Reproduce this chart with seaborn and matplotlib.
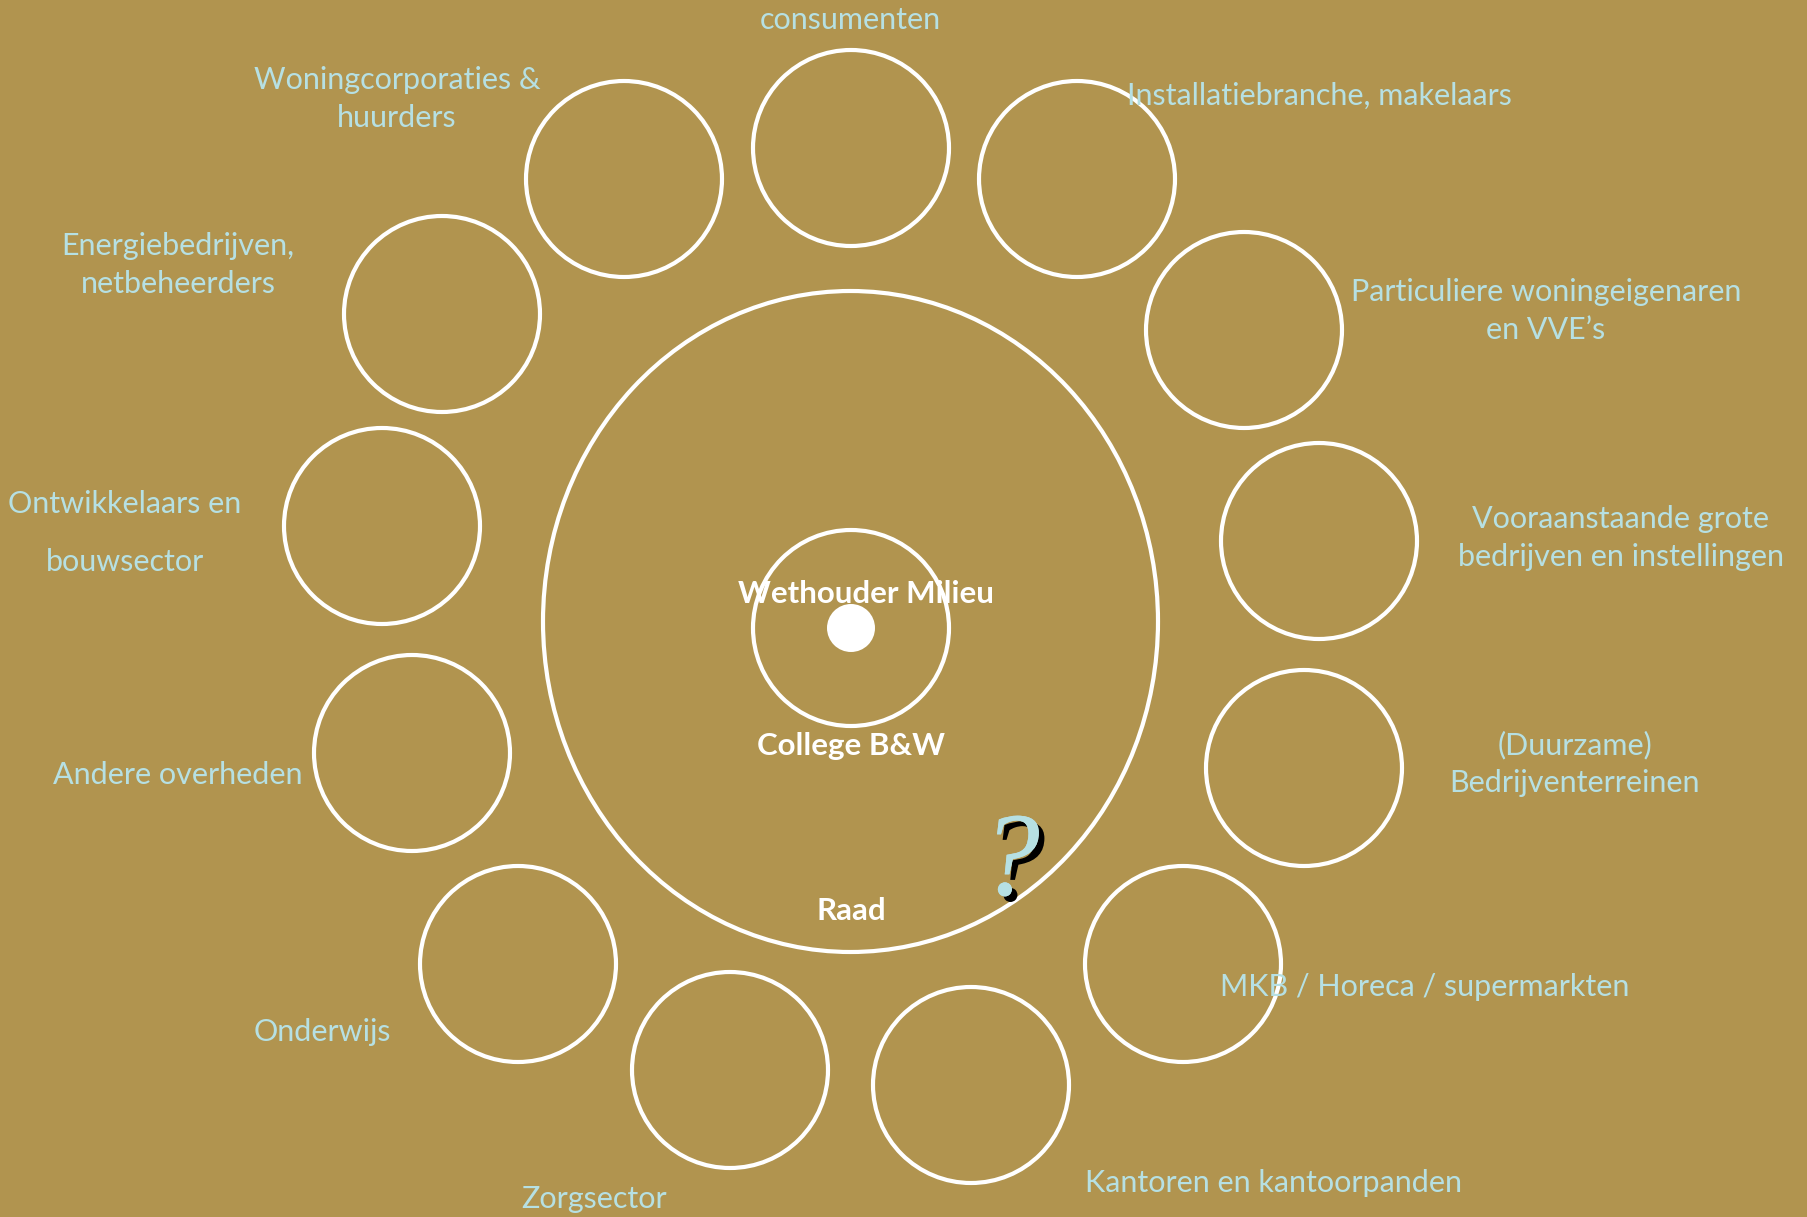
import matplotlib
matplotlib.use("Agg")
import matplotlib.pyplot as plt
from matplotlib.patches import Circle, Ellipse
import matplotlib.patheffects as pe
import seaborn as sns
import pandas as pd

# ---- data (categories / text) ----
stakeholders = [
    "consumenten",
    "Installatiebranche, makelaars",
    "Particuliere woningeigenaren\nen VVE\u2019s",
    "Vooraanstaande grote\nbedrijven en instellingen",
    "(Duurzame)\nBedrijventerreinen",
    "MKB / Horeca / supermarkten",
    "Kantoren en kantoorpanden",
    "Zorgsector",
    "Onderwijs",
    "Andere overheden",
    "Ontwikkelaars en\nbouwsector",
    "Energiebedrijven,\nnetbeheerders",
    "Woningcorporaties &\nhuurders",
]
center_labels = ["Wethouder Milieu", "College B&W", "Raad"]

# ---- layout (pixel positions in a 1808x1217 canvas) ----
circle_x = [851, 1077, 1244, 1319, 1304, 1183, 971, 730, 518, 412, 382, 442, 624]
circle_y = [148, 179, 330, 541, 768, 964, 1085, 1070, 964, 753, 526, 314, 179]
label_x = [850, 1319, 1546, 1621, 1575, 1425, 1274, 594, 322, 178, 125, 178, 397]
label_y = [20, 96, 311, 538, 764, 987, 1183, 1199, 1032, 775, 533, 265, 99]
label_spacing = [1.42] * 10 + [2.3] + [1.42] * 2
center_label_x = [866, 851, 851]
center_label_y = [594, 746, 911]

BG = "#B1944F"
TXT = "#B6E0E3"

sns.set_style("white")
plt.rcParams["font.family"] = ["Lato", "DejaVu Sans"]

W, H = 1808, 1217
fig = plt.figure(figsize=(W / 100, H / 100), dpi=100, facecolor=BG)
ax = fig.add_axes([0, 0, 1, 1])
ax.set_facecolor(BG)

lw = 3.0
# outer small circles
for cx, cy in zip(circle_x, circle_y):
    ax.add_patch(Circle((cx, cy), 98, fill=False, ec="white", lw=lw))

# big ring (slightly elliptical in the original)
ax.add_patch(Ellipse((850.5, 621.5), 615, 661, fill=False, ec="white", lw=lw))
# inner ring
ax.add_patch(Circle((851, 628), 98, fill=False, ec="white", lw=lw))

# center dot
dot = pd.DataFrame({"x": [851], "y": [628]})
sns.scatterplot(data=dot, x="x", y="y", ax=ax, s=(48 * 0.72) ** 2, color="white",
                edgecolor="none", legend=False, zorder=5)
ax.set_xlim(0, W)
ax.set_ylim(H, 0)
ax.axis("off")

# stakeholder labels
for txt, x, y, ls in zip(stakeholders, label_x, label_y, label_spacing):
    ax.text(x, y, txt, ha="center", va="center", color=TXT, fontsize=22,
            linespacing=ls, zorder=6)

# center labels
for txt, x, y in zip(center_labels, center_label_x, center_label_y):
    ax.text(x, y, txt, ha="center", va="center", color="white", fontsize=22.5,
            fontweight="bold", zorder=6)

# question mark with shadow
ax.text(1010, 866, "?", ha="center", va="center", color=TXT, fontsize=86,
        family=["Liberation Serif", "DejaVu Serif"], style="italic", zorder=7,
        path_effects=[pe.withSimplePatchShadow(offset=(4, -4), shadow_rgbFace="black", alpha=1),
                      pe.Normal()])

fig.savefig("out.png", dpi=100, facecolor=BG)
